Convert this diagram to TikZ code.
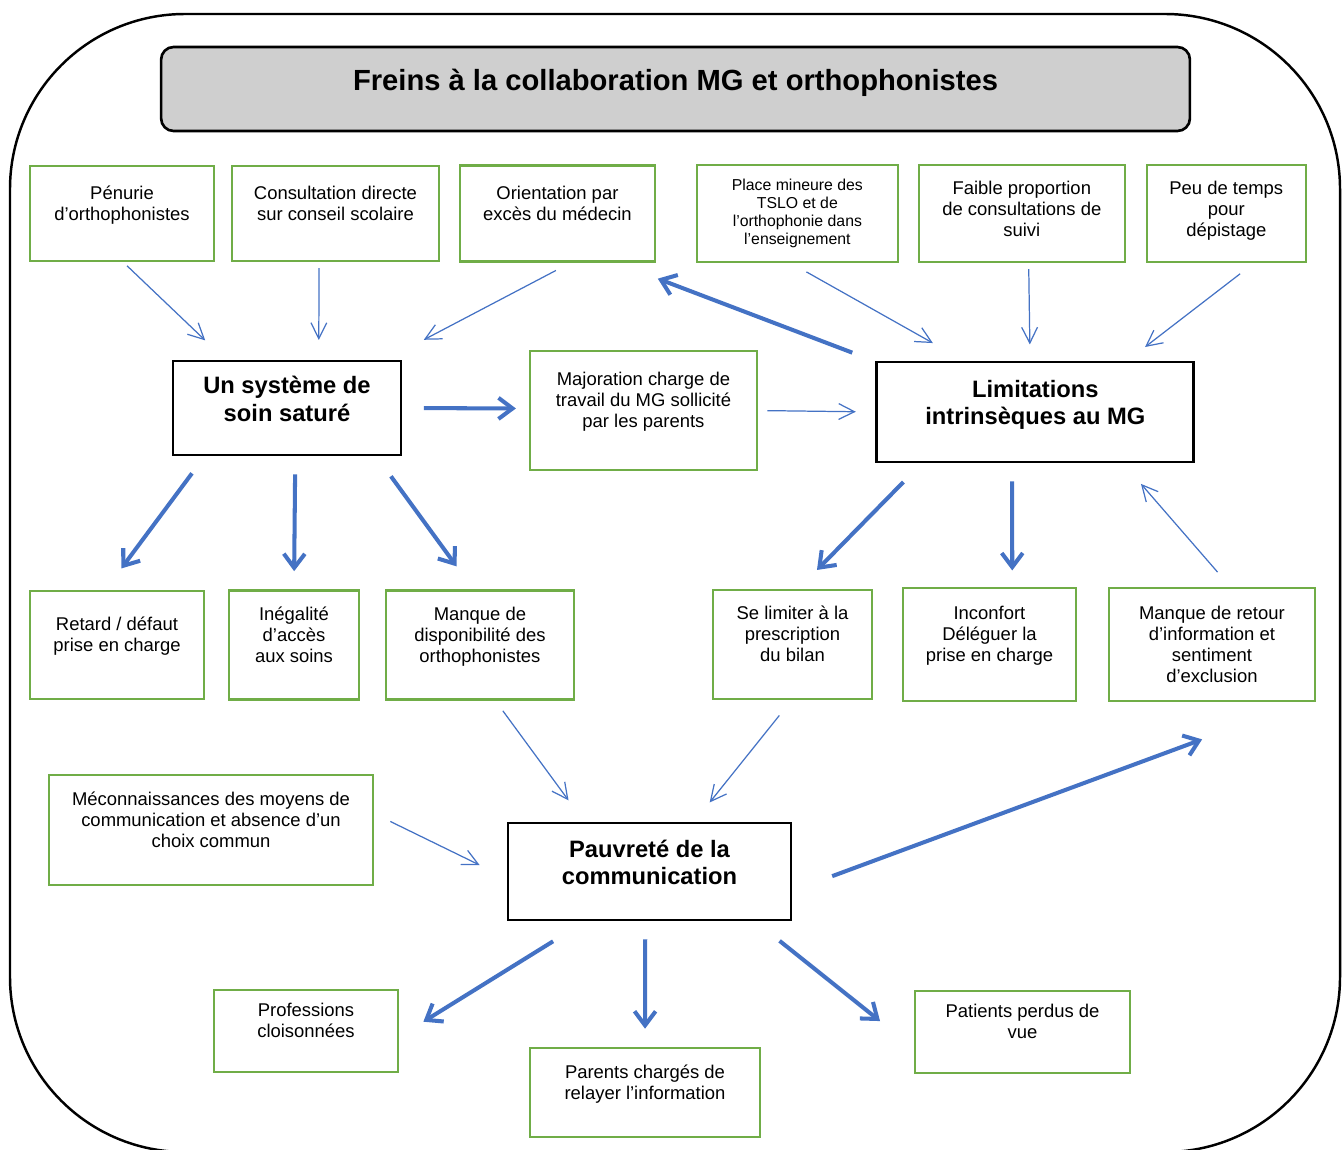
\documentclass[tikz,border=0pt]{standalone}
\usepackage{fontspec}
\setmainfont{Liberation Sans}
\usepackage{tikz}
\usetikzlibrary{arrows.meta,positioning}
\usepackage{xcolor}
\definecolor{frgreen}{HTML}{70AD47}
\definecolor{frblue}{HTML}{4472C4}

\begin{document}
\begin{tikzpicture}[
  x=0.02cm, y=-0.02cm,
  title/.style={draw, line width=1.5pt, rounded corners=0.25cm, fill=black!19, align=center, font=\bfseries\fontsize{16.6}{19}\selectfont, minimum width=20.58cm, minimum height=1.68cm},
  cause/.style={draw=frgreen, line width=1.3pt, align=center, font=\fontsize{10.5}{12}\selectfont, outer sep=0pt},
  theme/.style={draw, line width=1.6pt, align=center, font=\bfseries\fontsize{13.5}{15.6}\selectfont, outer sep=0pt},
  thin arrow/.style={draw=frblue, line width=0.7pt, -{Straight Barb[length=9pt,width=9pt]}},
  thick arrow/.style={draw=frblue, line width=2.3pt, -{Straight Barb[length=8pt,width=12pt]}}
]
\useasboundingbox (0,0) rectangle (1344,1149);
\draw[line width=1.4pt, rounded corners=3.5cm] (10,14) rectangle (1340,1152);

\node[title] (ttl) at (675.5,89) {Freins à la collaboration MG et orthophonistes\\[-9pt]~};

% causes du haut
\node[cause, minimum width=3.68cm, minimum height=1.90cm] (pen) at (122,213.5) {Pénurie\\d’orthophonistes\\~};
\node[cause, minimum width=4.14cm, minimum height=1.90cm, right=0.36cm of pen] (con) {Consultation directe\\sur conseil scolaire\\~};
\node[cause, minimum width=3.90cm, minimum height=1.92cm, right=0.42cm of con] (ori) {Orientation par\\excès du médecin\\~};
\node[cause, minimum width=4.02cm, minimum height=1.94cm, right=0.84cm of ori, font=\fontsize{9}{10.4}\selectfont] (pla) {Place mineure des\\TSLO et de\\l’orthophonie dans\\l’enseignement};
\node[cause, minimum width=4.12cm, minimum height=1.94cm, right=0.42cm of pla] (fai) {Faible proportion\\de consultations de\\suivi\\[-6.8pt]~};
\node[cause, minimum width=3.18cm, minimum height=1.94cm, right=0.44cm of fai] (peu) {Peu de temps\\pour\\dépistage\\[-6.8pt]~};

% noeuds principaux
\node[theme, minimum width=4.56cm, minimum height=1.88cm] (sys) at (287,408) {Un système de\\soin saturé\\[-5pt]~};
\node[cause, minimum width=4.54cm, minimum height=2.38cm, right=2.58cm of sys, yshift=-0.05cm] (maj) {Majoration charge de\\travail du MG sollicité\\par les parents\\~};
\node[theme, minimum width=6.34cm, minimum height=2.00cm, right=2.40cm of maj, yshift=-0.03cm] (lim) {Limitations\\intrinsèques au MG\\[-5pt]~};

% conséquences
\node[cause, minimum width=3.48cm, minimum height=2.16cm] (ret) at (117,645) {Retard / défaut\\prise en charge\\~};
\node[cause, minimum width=2.60cm, minimum height=2.18cm, right=0.50cm of ret] (ine) {Inégalité\\d’accès\\aux soins\\~};
\node[cause, minimum width=3.76cm, minimum height=2.18cm, right=0.54cm of ine] (dis) {Manque de\\disponibilité des\\orthophonistes\\~};
\node[cause, minimum width=3.18cm, minimum height=2.18cm] (sel) at (792.5,644.5) {Se limiter à la\\prescription\\du bilan\\~};
\node[cause, minimum width=3.46cm, minimum height=2.26cm, right=0.62cm of sel] (inc) {Inconfort\\Déléguer la\\prise en charge\\~};
\node[cause, minimum width=4.12cm, minimum height=2.26cm, right=0.66cm of inc] (mrt) {Manque de retour\\d’information et\\sentiment\\d’exclusion};

\node[cause, minimum width=6.48cm, minimum height=2.20cm] (mec) at (211,830) {Méconnaissances des moyens de\\communication et absence d’un\\choix commun\\~};
\node[theme, minimum width=5.66cm, minimum height=1.94cm] (pau) at (649.5,871.5) {Pauvreté de la\\communication\\[-5pt]~};

\node[cause, minimum width=3.68cm, minimum height=1.64cm] (pro) at (306,1031) {Professions\\cloisonnées\\~};
\node[cause, minimum width=4.60cm, minimum height=1.78cm] (par) at (645,1092.5) {Parents chargés de\\relayer l’information\\~};
\node[cause, minimum width=4.30cm, minimum height=1.64cm] (pat) at (1022.5,1032) {Patients perdus de\\vue\\~};

% fleches fines
\draw[thin arrow, shorten <=4pt, shorten >=17pt] (pen.south) -- (sys.142);
\draw[thin arrow, shorten <=4pt, shorten >=12pt] (con.251) -- (sys.56);
\draw[thin arrow, shorten <=11pt, shorten >=26pt] (ori.288) -- (sys.26);
\draw[thin arrow, shorten <=11.5pt, shorten >=22pt] (pla.260) -- (lim.144);
\draw[thin arrow, shorten <=4pt, shorten >=10pt] (fai.278) -- (lim.96);
\draw[thin arrow, shorten <=11pt, shorten >=14pt] (peu.301) -- (lim.29);
\draw[thin arrow, shorten <=6pt, shorten >=12pt] (maj.east) -- (lim.west);
\draw[thin arrow, shorten <=12pt, shorten >=16.5pt] (mrt.71) -- (lim.330);
\draw[thin arrow, shorten <=8pt, shorten >=16pt] (dis.285) -- (pau.143);
\draw[thin arrow, shorten <=12pt, shorten >=15pt] (sel.south) -- (pau.48);
\draw[thin arrow, shorten <=11pt, shorten >=18pt] (mec.6) -- (pau.183);

% fleches epaisses
\draw[thick arrow, shorten <=13pt, shorten >=8pt] (sys.east) -- (maj.179);
\draw[thick arrow, shorten <=15pt, shorten >=27.5pt] (lim.north west) -- (ori.319);
\draw[thick arrow, shorten <=13pt, shorten >=16pt] (sys.210) -- (ret.103);
\draw[thick arrow, shorten <=11pt, shorten >=11pt] (sys.280) -- (ine.north);
\draw[thick arrow, shorten <=15pt, shorten >=17pt] (sys.332) -- (dis.96);
\draw[thick arrow, shorten <=16pt, shorten >=16pt] (lim.204) -- (sel.85);
\draw[thick arrow, shorten <=11pt, shorten >=10pt] (lim.245) -- (inc.68);
\draw[thick arrow, shorten <=25pt, shorten >=63pt] (pau.352) -- (mrt.329);
\draw[thick arrow, shorten <=23pt, shorten >=17pt] (pau.218) -- (pro.356);
\draw[thick arrow, shorten <=11pt, shorten >=11pt] (pau.265) -- (par.north);
\draw[thick arrow, shorten <=19pt, shorten >=25.5pt] (pau.335) -- (pat.189);

\end{tikzpicture}
\end{document}
